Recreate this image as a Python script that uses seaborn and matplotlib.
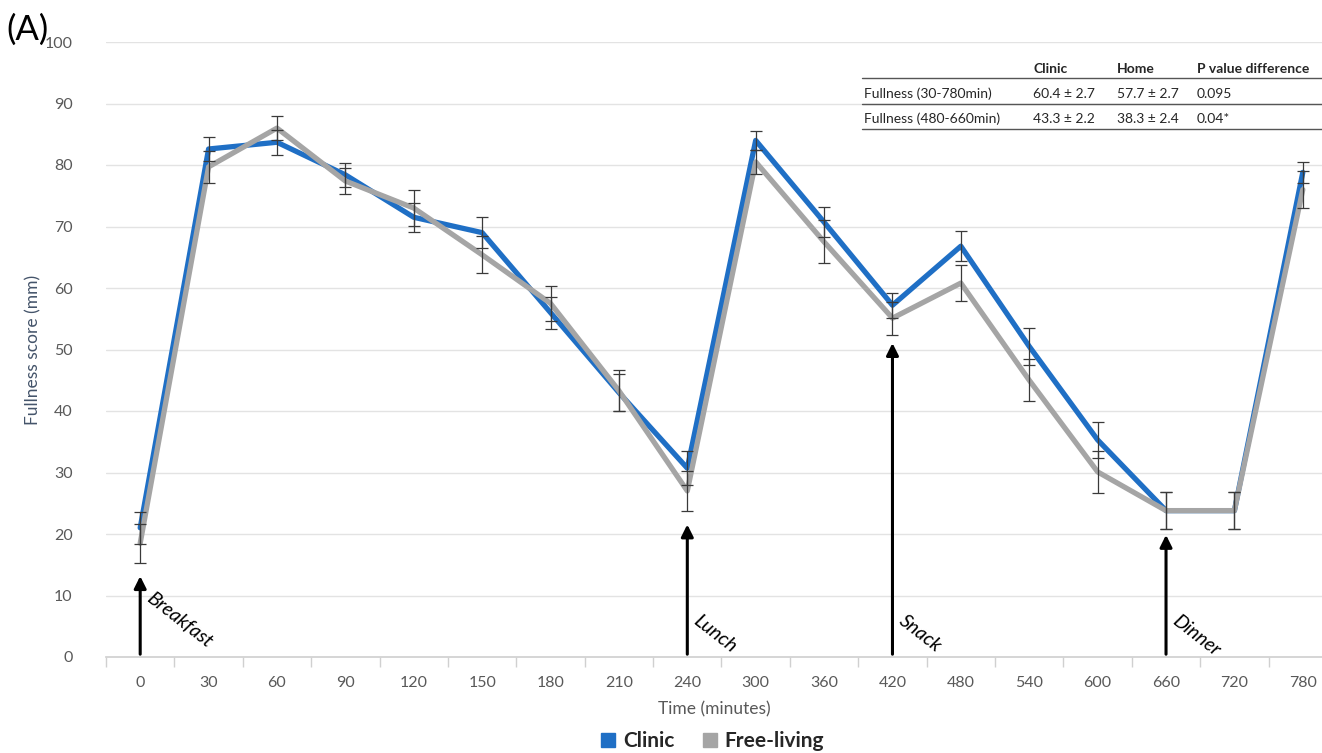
import matplotlib
matplotlib.use("Agg")
import matplotlib.pyplot as plt
import seaborn as sns
import pandas as pd
import numpy as np

# ---- data ----
time_labels = ["0", "30", "60", "90", "120", "150", "180", "210", "240", "300",
               "360", "420", "480", "540", "600", "660", "720", "780"]
clinic = [21.0, 82.6, 83.7, 78.4, 71.5, 69.0, 56.0, 43.0, 30.7, 84.0,
          70.7, 57.2, 66.8, 50.5, 35.3, 23.8, 23.8, 78.8]
clinic_se = [2.6, 2.0, 2.0, 2.0, 2.4, 2.5, 2.6, 3.0, 2.8, 1.6,
             2.4, 2.0, 2.4, 3.0, 2.9, 3.0, 3.0, 1.7]
free_living = [18.5, 79.7, 86.0, 77.4, 73.0, 65.4, 57.5, 43.3, 27.0, 80.5,
               67.5, 55.1, 60.8, 45.0, 30.1, 23.8, 23.8, 76.0]
free_living_se = [3.2, 2.6, 2.0, 2.1, 2.9, 3.0, 2.8, 3.3, 3.3, 2.0,
                  3.5, 2.7, 2.9, 3.4, 3.4, 3.0, 3.0, 3.0]
meal_labels = ["Breakfast", "Lunch", "Snack", "Dinner"]
meal_times = ["0", "240", "420", "660"]
meal_arrow_tops = [13.6, 22.0, 51.5, 20.3]

table_header = ["Clinic", "Home", "P value difference"]
table_rows = ["Fullness (30-780min)", "Fullness (480-660min)"]
table_clinic = ["60.4 \u00b1 2.7", "43.3 \u00b1 2.2"]
table_home = ["57.7 \u00b1 2.7", "38.3 \u00b1 2.4"]
table_p = ["0.095", "0.04*"]

BLUE = "#1F6FC5"
GRAY = "#A5A5A5"
AXCOL = "#44546A"

sns.set_theme(style="white")
plt.rcParams['font.family'] = ['Lato', 'DejaVu Sans']

fig = plt.figure(figsize=(13.22, 7.53), dpi=100)
ax = fig.add_axes([106/1322, 1 - 657/753, 1 - 106/1322, (657 - 42)/753])

pos = np.arange(len(time_labels))
df = pd.DataFrame({
    "pos": np.concatenate([pos, pos]),
    "value": clinic + free_living,
    "series": ["Clinic"] * len(pos) + ["Free-living"] * len(pos),
})

# gridlines
for v in range(10, 101, 10):
    ax.axhline(v, color="#E3E3E3", lw=1.0, zorder=0)

sns.lineplot(data=df, x="pos", y="value", hue="series",
             palette={"Clinic": BLUE, "Free-living": GRAY},
             hue_order=["Clinic", "Free-living"],
             lw=3.8, ax=ax, legend=False, zorder=3, sort=False,
             estimator=None)
for ln in ax.get_lines():
    if str(ln.get_color()).lower() == GRAY.lower():
        ln.set_zorder(4)

ax.errorbar(pos, clinic, yerr=clinic_se, fmt="none", ecolor="#3A3A3A",
            elinewidth=0.9, capsize=4, capthick=0.9, zorder=5)
ax.errorbar(pos, free_living, yerr=free_living_se, fmt="none", ecolor="#3A3A3A",
            elinewidth=0.9, capsize=4, capthick=0.9, zorder=5)

# meal arrows
for lab, t, top in zip(meal_labels, meal_times, meal_arrow_tops):
    xi = time_labels.index(t)
    ax.annotate("", xy=(xi, top), xytext=(xi, 0),
                arrowprops=dict(arrowstyle="-|>,head_length=0.6,head_width=0.3",
                                color="black", lw=2.2), zorder=6)
    ty = 11.0 if lab == "Breakfast" else 7.3
    ax.text(xi + 0.2, ty, lab, rotation=-38, style="italic", fontsize=14,
            ha="left", va="top", rotation_mode="anchor", color="black")

ax.set_ylim(0, 100)
ax.set_xlim(-0.5, (1322 - 140) / 68.4)
ax.set_yticks(range(0, 101, 10))
ax.set_xticks(pos)
ax.set_xticklabels(time_labels)
ax.set_xticks(list(pos[:-1] + 0.5) + [-0.5], minor=True)
ax.tick_params(axis="x", which="minor", length=7, color="#D0D0D0", width=1, bottom=True)
ax.tick_params(axis="x", which="major", length=0, labelsize=11.5, colors="#595959", pad=14)
ax.tick_params(axis="y", length=0, labelsize=11.5, colors="#595959", pad=24)
for s in ["top", "right", "left"]:
    ax.spines[s].set_visible(False)
ax.spines["bottom"].set_color("#D0D0D0")
ax.set_xlabel("Time (minutes)", fontsize=12.5, color="#595959", labelpad=8)
ax.set_ylabel("Fullness score (mm)", fontsize=12.5, color=AXCOL, labelpad=2)

# panel label
fig.text(6/1322, 1 - 30/753, "(A)", fontsize=25, ha="left", va="center", color="black")

# legend
from matplotlib.lines import Line2D
handles = [Line2D([], [], marker="s", ls="none", color=BLUE, markersize=10),
           Line2D([], [], marker="s", ls="none", color=GRAY, markersize=10)]
fig.legend(handles, ["Clinic", "Free-living"], loc="center",
           bbox_to_anchor=(712/1322, 1 - 741/753), ncol=2, frameon=False,
           prop={"weight": "bold", "size": 15}, handletextpad=0.3,
           columnspacing=1.3, handlelength=0.8)

# table
def fx(px):
    return px / 1322

def fy(py):
    return 1 - py / 753

col_x = [1033, 1117, 1197]
for h, cx in zip(table_header, col_x):
    fig.text(fx(cx), fy(69), h, fontsize=10, weight="bold", va="center", ha="left")
row_y = [94, 119]
for i, ry in enumerate(row_y):
    fig.text(fx(864), fy(ry), table_rows[i], fontsize=10, va="center", ha="left")
    fig.text(fx(col_x[0]), fy(ry), table_clinic[i], fontsize=10, va="center", ha="left")
    fig.text(fx(col_x[1]), fy(ry), table_home[i], fontsize=10, va="center", ha="left")
    fig.text(fx(col_x[2]), fy(ry), table_p[i], fontsize=10, va="center", ha="left")
for ly in [78, 104, 129]:
    fig.add_artist(Line2D([fx(862), fx(1322)], [fy(ly), fy(ly)], color="#555555", lw=1.0))

fig.savefig("out.png", dpi=100, facecolor="white")
